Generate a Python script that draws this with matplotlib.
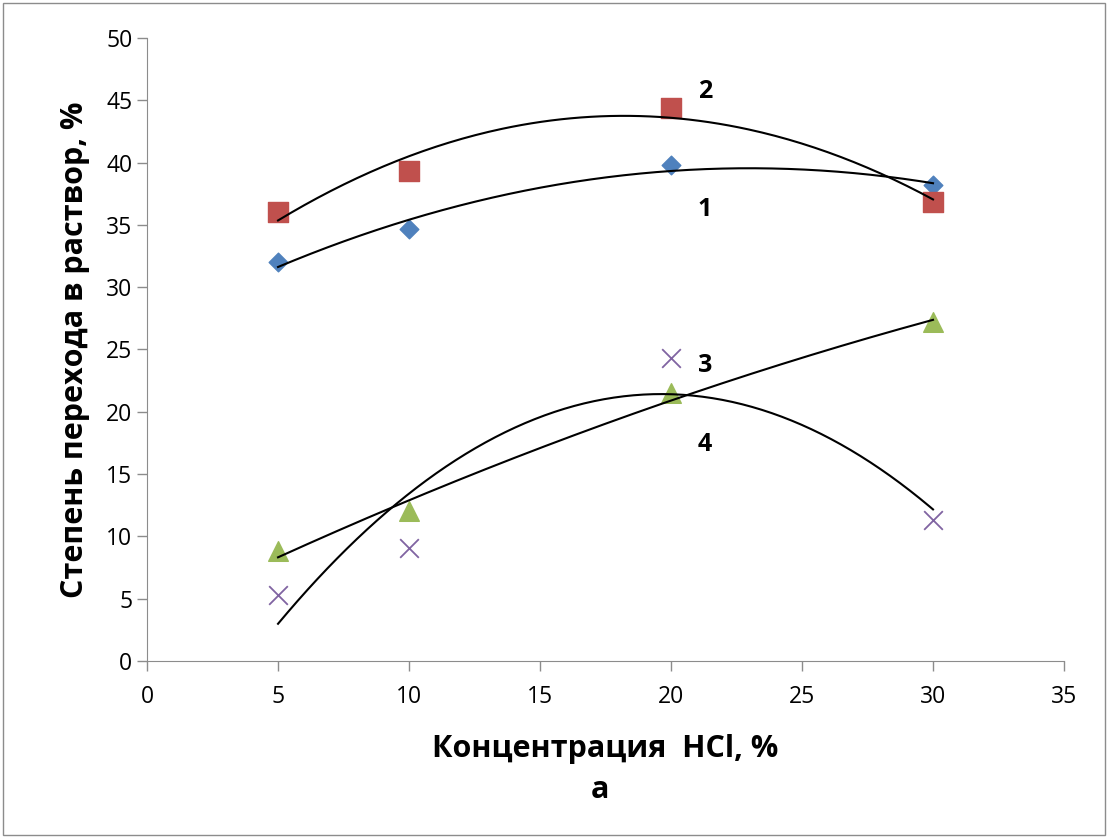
import numpy as np
import matplotlib.pyplot as plt
from matplotlib.patches import Rectangle

plt.rcParams['font.family'] = ['Open Sans', 'DejaVu Sans']

# concentrations HCl, %
conc = [5, 10, 20, 30]

# degree of transfer into solution, %
s1 = [32.0, 34.7, 39.8, 38.2]
s2 = [36.0, 39.3, 44.4, 36.8]
s3 = [8.8, 12.0, 21.5, 27.2]
s4 = [5.3, 9.1, 24.3, 11.3]

curve_labels = ["1", "2", "3", "4"]
label_pos = [(21.3, 36.2), (21.3, 45.7), (21.3, 23.7), (21.3, 17.4)]


def trend(x, y, deg=2):
    # Excel-like polynomial trendline
    c = np.polyfit(x, y, deg)
    xx = np.linspace(min(x), max(x), 200)
    return xx, np.polyval(c, xx)


fig = plt.figure(figsize=(11.08, 8.38), dpi=100)
fig.patches.append(Rectangle((0.003, 0.003), 0.994, 0.994, transform=fig.transFigure,
                             fill=False, edgecolor="#8c8c8c", linewidth=1.0))
ax = fig.add_axes([0.1327, 0.2112, 0.8276, 0.7435])

ax.scatter(conc, s1, marker="D", s=90, color="#4F81BD", zorder=3)
ax.scatter(conc, s2, marker="s", s=210, color="#C0504D", zorder=3)
ax.scatter(conc, s3, marker="^", s=200, color="#9BBB59", zorder=3)
ax.scatter(conc, s4, marker="x", s=180, color="#8064A2", linewidths=1.3, zorder=3)

for y in (s1, s2, s3, s4):
    xx, yy = trend(conc, y)
    ax.plot(xx, yy, color="black", linewidth=1.5, zorder=4)

for lab, (lx, ly) in zip(curve_labels, label_pos):
    ax.text(lx, ly, lab, fontsize=18, fontweight="bold", ha="center", va="center")

ax.set_xlim(0, 35)
ax.set_ylim(0, 50)
ax.set_xticks(np.arange(0, 36, 5))
ax.set_yticks(np.arange(0, 51, 5))
for side in ("top", "right"):
    ax.spines[side].set_visible(False)
for side in ("left", "bottom"):
    ax.spines[side].set_color("#8c8c8c")
ax.tick_params(colors="#8c8c8c", labelcolor="black", labelsize=16.5, length=7, width=1)
ax.tick_params(axis="x", pad=10)

ax.set_xlabel("Концентрация  HCl, %", fontsize=22, fontweight="bold", labelpad=18)
ax.set_ylabel("Степень перехода в раствор, %", fontsize=22, fontweight="bold", labelpad=12)
fig.text(0.5416, 0.057, "а", fontsize=22, fontweight="bold", ha="center", va="center")

fig.savefig("out.png", dpi=100)
